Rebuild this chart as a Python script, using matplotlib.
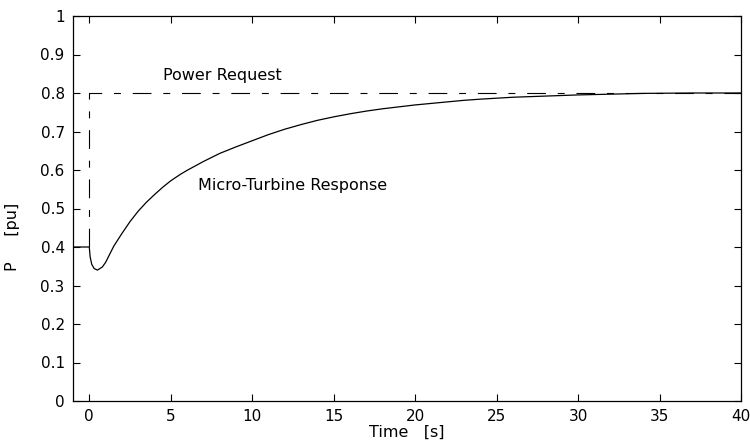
import matplotlib
matplotlib.use("Agg")
import matplotlib.pyplot as plt

# Micro-turbine response
t_resp = [-1, 0, 0.05, 0.15, 0.3, 0.5, 0.8, 1.0, 1.5, 2.0, 2.5, 3.0, 3.5, 4.0, 4.5, 5.0,
          5.6, 6.0, 7.0, 8.0, 9.0, 10.0, 11.0, 12.0, 13.0, 14.0, 15.0, 16.0, 17.0, 18.0,
          19.0, 20.0, 21.0, 22.0, 23.0, 24.0, 26.0, 28.0, 30.0, 32.0, 34.0, 37.0, 40.0]
p_resp = [0.40, 0.40, 0.375, 0.355, 0.344, 0.340, 0.348, 0.360, 0.402, 0.435, 0.466, 0.493,
          0.516, 0.536, 0.555, 0.572, 0.589, 0.599, 0.622, 0.643, 0.660, 0.676, 0.692,
          0.706, 0.718, 0.729, 0.738, 0.746, 0.753, 0.759, 0.764, 0.769, 0.773, 0.777,
          0.781, 0.784, 0.789, 0.792, 0.795, 0.797, 0.799, 0.800, 0.800]

# Power request step
t_req = [0, 0, 40]
p_req = [0.40, 0.80, 0.80]

x_ticks = [0, 5, 10, 15, 20, 25, 30, 35, 40]
y_ticks = [0, 0.1, 0.2, 0.3, 0.4, 0.5, 0.6, 0.7, 0.8, 0.9, 1]
y_ticklabels = ["0", "0.1", "0.2", "0.3", "0.4", "0.5", "0.6", "0.7", "0.8", "0.9", "1"]

plt.rcParams['font.family'] = ['DejaVu Sans']
plt.rcParams['lines.scale_dashes'] = False

fig = plt.figure(figsize=(7.5, 4.43), dpi=100)
ax = fig.add_axes([73/750, 1 - 401/443, (741 - 73)/750, (401 - 16)/443])

ax.plot(t_req, p_req, color='black', lw=0.8, dashes=[13.5, 8.5, 5, 8.5])
ax.plot(t_resp, p_resp, color='black', lw=0.9)

ax.set_xlim(-1, 40)
ax.set_ylim(0, 1)
ax.set_xticks(x_ticks)
ax.set_xticklabels([str(v) for v in x_ticks])
ax.set_yticks(y_ticks)
ax.set_yticklabels(y_ticklabels)
ax.tick_params(direction='in', length=5, width=0.8, top=True, right=True,
               labelsize=11, pad=6)
for s in ax.spines.values():
    s.set_linewidth(0.9)

ax.text(4.5, 0.834, "Power Request", fontsize=11.5, ha='left', va='baseline')
ax.text(6.65, 0.548, "Micro-Turbine Response", fontsize=11.5, ha='left', va='baseline')

ax.set_xlabel("Time   [s]", fontsize=11.5, labelpad=0)
ax.set_ylabel("P     [pu]", fontsize=11.5)
ax.yaxis.set_label_coords(-0.08, 0.426)

fig.savefig("out.png", dpi=100)
